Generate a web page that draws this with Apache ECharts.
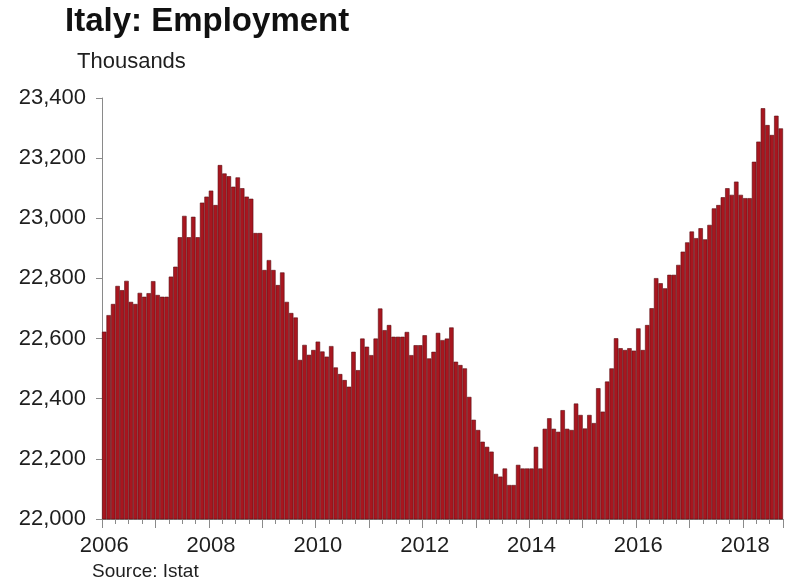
<!DOCTYPE html>
<html>
<head>
<meta charset="utf-8">
<title>Italy: Employment</title>
<script src="https://cdn.jsdelivr.net/npm/echarts@6/dist/echarts.min.js"></script>
<style>
  html, body { margin: 0; padding: 0; background: #ffffff; }
  #chart { width: 786px; height: 584px; }
</style>
</head>
<body>
<div id="chart"></div>
<script>
// Monthly employment in Italy, thousands of persons (Jan 2006 - Sep 2018)
const years = [2006, 2007, 2008, 2009, 2010, 2011, 2012, 2013, 2014, 2015, 2016, 2017, 2018];

const emp2006 = [22623, 22678, 22715, 22775, 22761, 22792, 22722, 22715, 22752, 22739, 22751, 22791];
const emp2007 = [22745, 22739, 22739, 22806, 22839, 22937, 23008, 22937, 23005, 22937, 23052, 23072];
const emp2008 = [23092, 23044, 23177, 23149, 23140, 23105, 23136, 23100, 23072, 23065, 22951, 22951];
const emp2009 = [22828, 22861, 22828, 22778, 22820, 22722, 22685, 22670, 22529, 22579, 22546, 22562];
const emp2010 = [22590, 22557, 22540, 22575, 22504, 22482, 22462, 22440, 22556, 22495, 22600, 22573];
const emp2011 = [22545, 22600, 22700, 22628, 22645, 22606, 22606, 22606, 22622, 22545, 22578, 22578];
const emp2012 = [22611, 22534, 22556, 22619, 22595, 22600, 22637, 22523, 22512, 22501, 22406, 22330];
const emp2013 = [22296, 22257, 22240, 22224, 22150, 22141, 22168, 22113, 22113, 22180, 22168, 22168];
const emp2014 = [22168, 22240, 22168, 22300, 22335, 22300, 22290, 22362, 22300, 22296, 22384, 22346];
const emp2015 = [22301, 22346, 22319, 22435, 22357, 22457, 22501, 22601, 22568, 22562, 22568, 22560];
const emp2016 = [22634, 22562, 22645, 22701, 22801, 22784, 22767, 22812, 22812, 22845, 22889, 22920];
const emp2017 = [22956, 22934, 22967, 22930, 22978, 23033, 23044, 23070, 23100, 23078, 23122, 23078];
const emp2018 = [23067, 23067, 23188, 23255, 23366, 23310, 23277, 23341, 23299];

const yTicks = [22000, 22200, 22400, 22600, 22800, 23000, 23200, 23400];

const employment = [].concat(
  emp2006, emp2007, emp2008, emp2009, emp2010, emp2011, emp2012,
  emp2013, emp2014, emp2015, emp2016, emp2017, emp2018
);

// One category per month, labelled "YYYY-MM"
const months = employment.map(function (_, i) {
  const y = years[0] + Math.floor(i / 12);
  const m = (i % 12) + 1;
  return y + '-' + (m < 10 ? '0' + m : m);
});

const FONT = '"Liberation Sans", Arial, Helvetica, sans-serif';
const INK = '#1e1e1e';
const AXIS = '#8a8a8a';

const chart = echarts.init(document.getElementById('chart'), null, { renderer: 'canvas' });

chart.setOption({
  animation: false,
  backgroundColor: '#ffffff',
  graphic: [
    {
      type: 'text',
      left: 65,
      top: 5,
      style: { text: 'Italy: Employment', font: 'bold 33px ' + FONT, fill: '#111111' }
    },
    {
      type: 'text',
      left: 77,
      top: 51,
      style: { text: 'Thousands', font: '22px ' + FONT, fill: INK }
    },
    {
      type: 'text',
      left: 92,
      top: 562,
      style: { text: 'Source: Istat', font: '19px ' + FONT, fill: INK }
    }
  ],
  grid: { left: 102, right: 3, top: 98, bottom: 65, containLabel: false },
  xAxis: [
    {
      type: 'category',
      data: months,
      boundaryGap: true,
      axisLine: { show: true, lineStyle: { color: AXIS, width: 1 } },
      axisTick: {
        show: true,
        length: 5,
        interval: function (idx) { return idx % 3 === 0; },
        lineStyle: { color: AXIS, width: 1 }
      },
      axisLabel: {
        show: true,
        interval: function (idx) { return idx % 24 === 0; },
        formatter: function (v) { return v.slice(0, 4); },
        margin: 16,
        fontSize: 22,
        fontFamily: FONT,
        color: INK
      },
      splitLine: { show: false }
    },
    {
      // longer ticks at each January
      type: 'category',
      data: months,
      position: 'bottom',
      boundaryGap: true,
      axisLine: { show: false },
      axisTick: {
        show: true,
        length: 9,
        interval: function (idx) { return idx % 12 === 0; },
        lineStyle: { color: AXIS, width: 1 }
      },
      axisLabel: { show: false },
      splitLine: { show: false }
    }
  ],
  yAxis: {
    type: 'value',
    min: yTicks[0],
    max: yTicks[yTicks.length - 1],
    interval: yTicks[1] - yTicks[0],
    axisLine: { show: true, lineStyle: { color: AXIS, width: 1 } },
    axisTick: { show: true, length: 6, lineStyle: { color: AXIS, width: 1 } },
    axisLabel: {
      margin: 16,
      fontSize: 22,
      fontFamily: FONT,
      color: INK,
      formatter: function (v) { return v.toLocaleString('en-US'); }
    },
    splitLine: { show: false }
  },
  series: [
    {
      name: 'Employment',
      type: 'bar',
      xAxisIndex: 0,
      data: employment,
      barCategoryGap: '0%',
      itemStyle: {
        color: '#a8161f',
        borderColor: '#5a0d12',
        borderWidth: 0.6
      }
    }
  ]
});
</script>
</body>
</html>
